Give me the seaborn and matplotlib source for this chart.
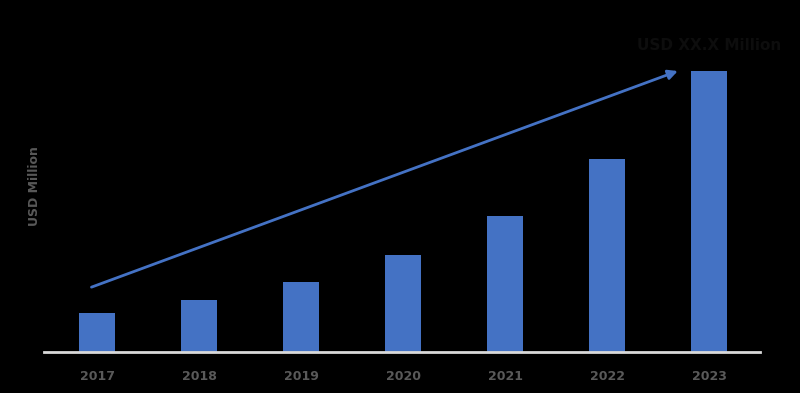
import numpy as np
import matplotlib
matplotlib.use("Agg")
import matplotlib.pyplot as plt
import seaborn as sns
import pandas as pd

years = ["2017", "2018", "2019", "2020", "2021", "2022", "2023"]
values = [39, 52, 70, 97, 136, 193, 281]
y_label = "USD Million"
end_label = "USD XX.X Million"

BAR_COLOR = "#4472C4"
TEXT_COLOR = "#595959"

sns.set_style("white")
plt.rcParams["font.family"] = ["DejaVu Sans"]

df = pd.DataFrame({"year": years, "value": values})

fig = plt.figure(figsize=(8, 3.93), dpi=100, facecolor="black")
ax = fig.add_axes([0.055, 0.104, 0.895, 0.845])
ax.set_facecolor("black")

sns.barplot(data=df, x="year", y="value", color=BAR_COLOR, width=0.35,
            saturation=1, linewidth=0, ax=ax)

ax.set_ylim(0, 332)
ax.set_xlim(-0.52, 6.5)
ax.set_yticks([])
ax.set_xlabel("")
ax.set_ylabel(y_label, color=TEXT_COLOR, fontsize=9, fontweight="bold", labelpad=2)
ax.tick_params(axis="x", length=0, pad=13, labelsize=9, labelcolor=TEXT_COLOR)
for lbl in ax.get_xticklabels():
    lbl.set_fontweight("bold")

for side in ["top", "right", "left"]:
    ax.spines[side].set_visible(False)
ax.spines["bottom"].set_color("#d9d9d9")
ax.spines["bottom"].set_linewidth(2)

# growth arrow
ax.annotate("", xy=(len(values) - 1 - 0.28, values[-1] + 1),
            xytext=(-0.08, values[0] + 25),
            arrowprops=dict(arrowstyle="-|>", color=BAR_COLOR, lw=2,
                            mutation_scale=14))

ax.text(len(values) - 1, values[-1] + 26, end_label, ha="center", va="center",
        fontsize=11, fontweight="bold", color="#0d0d0d")

fig.savefig("out.png", dpi=100, facecolor="black")
